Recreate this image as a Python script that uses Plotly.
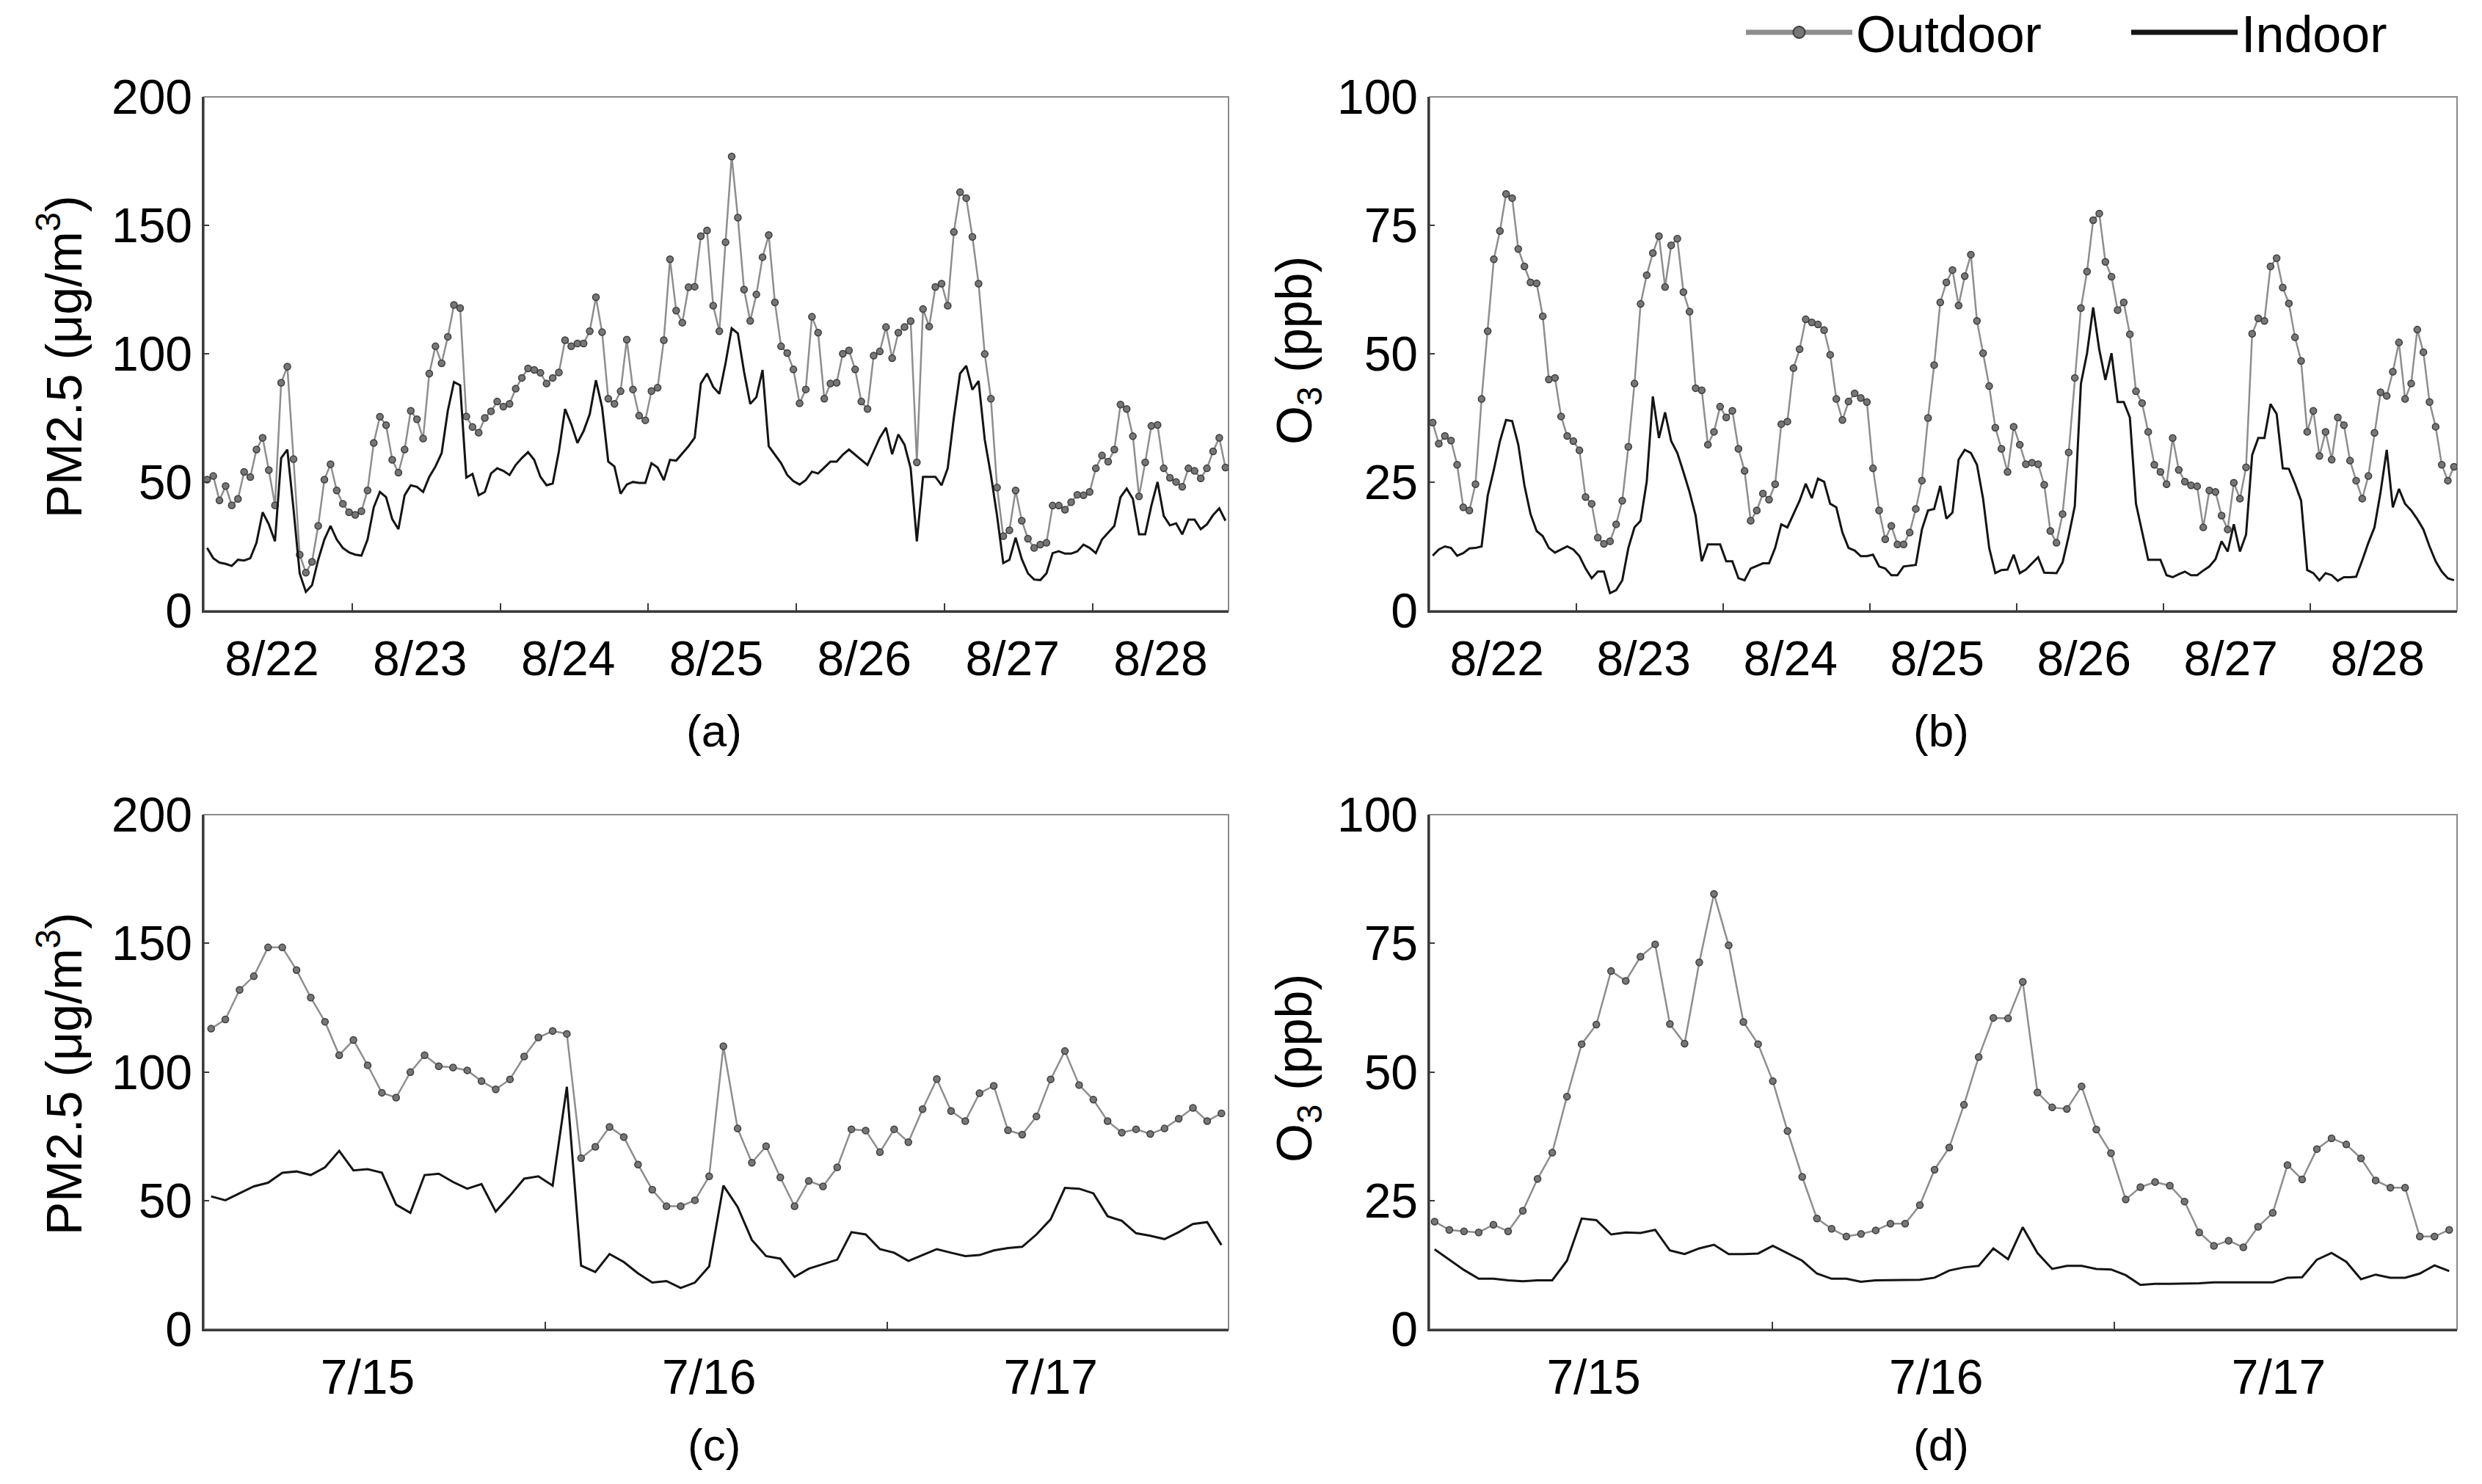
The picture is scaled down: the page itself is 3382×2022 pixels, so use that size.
import numpy as np
import plotly.graph_objects as go

# hourly values, 8/22 - 8/28 (panels a and b)
pm_out_aug = [51, 52.4, 42.9, 48.5, 41, 43.5, 54, 52, 62.7, 67.3,
              54.7, 41, 88.7, 95, 59, 21.8, 14.8, 19, 33, 51,
              57, 46.8, 41.6, 38.3, 37.3, 38.7, 46.8, 65.3, 75.5, 72.2,
              58.7, 53.7, 62.7, 77.8, 74.5, 67, 92.3, 102.9, 96.3, 106.6,
              119, 117.8, 75.6, 71.5, 69.3, 75, 77.6, 81.4, 79.4, 80.5,
              86.4, 90.6, 94.3, 93.7, 92.6, 88.4, 90.6, 92.7, 105.3, 102.9,
              104, 104, 108.8, 122, 108.4, 82.5, 80.5, 85.4, 105.5, 86.1,
              75.9, 74.1, 85.5, 86.8, 105.3, 136.8, 116.8, 112.1, 125.9, 126.1,
              145.8, 148, 118.7, 108.8, 143.4, 176.8, 153, 125, 112.8, 123.1,
              137.6, 146.2, 120, 102.9, 100.3, 93.9, 80.7, 86.1, 114.4, 108.2,
              82.5, 88.4, 88.7, 100, 101.3, 93.9, 81.4, 78.5, 99.3, 100.9,
              110.4, 98.3, 108.2, 110.4, 112.7, 57.7, 117.4, 110.6, 126, 127.3,
              118.7, 147.4, 162.9, 160.6, 145.5, 127.3, 99.9, 82.5, 47.9, 29,
              31.3, 46.8, 35, 28, 24.4, 25.7, 26.4, 40.9, 40.9, 39.3,
              42.2, 45.1, 44.9, 46.2, 55.4, 60.4, 58, 62.7, 80.2, 78.5,
              67.9, 44.5, 57.7, 71.9, 72.3, 55.4, 51.7, 50.1, 48.2, 55.4,
              54.4, 51.5, 55.4, 62, 67.3, 55.7]
pm_in_aug = [24.4, 20.4, 18.7, 18.2, 17.4, 19.8, 19.5, 20.4, 26.4, 38.3,
             33.6, 27, 59.4, 62.7, 39.6, 14.5, 7.3, 9.9, 19.8, 27.7,
             33, 27.7, 24.4, 22.7, 21.8, 21.4, 27.7, 40.2, 46.2, 44.2,
             35.6, 31.7, 44.9, 48.8, 48.2, 46.2, 52.1, 56.1, 61.3, 77.8,
             89, 87.7, 51.8, 53.2, 44.9, 46.2, 53.4, 55.4, 54.4, 52.8,
             56.7, 59.4, 61.7, 58.7, 52.1, 48.8, 49.5, 62, 78.5, 72.6,
             65.3, 69.9, 76.5, 89.7, 79.2, 58, 56.1, 45.5, 49.1, 50.1,
             49.7, 49.7, 57.4, 55.7, 50.8, 58.7, 58.4, 61.3, 64, 67.3,
             88.4, 92.3, 87.1, 84.4, 96.3, 109.9, 107.9, 93, 80.5, 83.1,
             93.7, 64, 60.7, 57.4, 52.8, 50.4, 49.1, 50.8, 54.1, 53.4,
             55.7, 58, 58, 60.7, 62.7, 60.7, 58.7, 56.7, 62, 67.3,
             71.2, 60.9, 68.6, 64.6, 55.4, 27, 52.1, 52.1, 52.1, 48.8,
             55.4, 75.2, 92.3, 95.3, 86, 89.4, 66.6, 52.8, 36.9, 18.5,
             19.8, 28.4, 20.1, 14.5, 12.1, 11.9, 14.5, 22.4, 23.1, 22.2,
             22.2, 23.1, 25.7, 24.4, 22.4, 27.7, 30.3, 33, 44.2, 47.5,
             43.5, 29.7, 29.7, 40.9, 50.1, 36.9, 33.2, 34, 29.7, 35.4,
             35.4, 31.7, 33.6, 37.2, 39.8, 35]
o3_out_aug = [36.6, 32.5, 34, 33.1, 28.4, 20.1, 19.5, 24.6, 41.2, 54.4,
              68.4, 73.9, 81.1, 80.3, 70.4, 67, 63.9, 63.7, 57.3, 45,
              45.3, 37.8, 34, 33, 31.2, 22.1, 20.8, 14.2, 13, 13.5,
              16.8, 21.4, 31.9, 44.2, 59.7, 65.3, 69.6, 72.9, 63, 71.1,
              72.4, 62, 58.2, 43.3, 42.9, 32.3, 34.8, 39.7, 37.6, 38.9,
              31.5, 27.2, 17.5, 19.5, 22.8, 21.6, 24.6, 36.3, 36.8, 47.2,
              50.9, 56.7, 56.1, 55.7, 54.6, 49.8, 41.2, 37.1, 40.7, 42.3,
              41.4, 40.6, 27.7, 19.5, 13.9, 16.5, 12.9, 12.9, 15.2, 19.8,
              25.3, 37.5, 47.8, 60, 63.9, 66.3, 59.4, 65.1, 69.3, 56.4,
              50.1, 43.7, 35.6, 31.5, 27, 35.8, 32.3, 28.5, 28.8, 28.5,
              24.5, 15.5, 13.2, 18.8, 30.8, 45.3, 58.9, 66, 76, 77.3,
              67.9, 65, 58.5, 60, 53.8, 42.7, 40.4, 34.8, 28.4, 27,
              24.6, 33.6, 27.4, 25.1, 24.4, 24.2, 16.2, 23.4, 23.1, 18.5,
              15.8, 24.9, 21.8, 27.9, 53.9, 56.9, 56.4, 67, 68.6, 62.9,
              59.8, 53.2, 48.6, 34.8, 38.9, 30.1, 34.8, 29.4, 37.6, 36.1,
              29.2, 25.3, 21.8, 26.2, 34.6, 42.5, 41.8, 46.5, 52.2, 41.2,
              44.2, 54.7, 50.3, 40.6, 35.8, 28.4, 25.3, 28]
o3_in_aug = [10.7, 11.9, 12.5, 12.2, 10.7, 11.2, 12.1, 12.2, 12.5, 22.4,
             27.4, 33, 37.1, 36.9, 32.3, 24.4, 18.8, 15.5, 14.5, 12.2,
             11.3, 11.9, 12.5, 11.9, 10.6, 8.2, 6.3, 7.6, 7.6, 3.4,
             4, 5.9, 12.2, 16.2, 17.5, 25.1, 41.7, 33.6, 38.6, 33,
             30.7, 27, 23.1, 18.5, 9.6, 12.9, 12.9, 12.9, 9.6, 9.6,
             6.3, 5.9, 8.2, 8.7, 9.2, 9.2, 12.2, 16.8, 16.2, 18.8,
             21.4, 24.7, 21.9, 25.7, 25.1, 20.8, 20.1, 15.2, 12.2, 11.7,
             10.6, 10.6, 10.9, 8.6, 8.2, 6.9, 6.9, 8.6, 8.7, 8.9,
             15.8, 19.5, 19.8, 24.3, 17.9, 19.1, 29.4, 31.3, 30.7, 28.4,
             21.8, 12.2, 7.3, 7.9, 8, 10.9, 7.3, 8, 9.2, 10.4,
             7.4, 7.3, 7.3, 9.4, 14.5, 20.4, 44.2, 50.1, 59, 50.8,
             44.9, 50.1, 40.6, 40.6, 37.6, 20.8, 15.2, 9.9, 9.9, 9.9,
             6.9, 6.5, 7.1, 7.6, 6.9, 6.9, 7.8, 8.6, 10, 13.5,
             11.5, 16.8, 11.5, 14.8, 30.3, 33.6, 33.6, 40.2, 38.3, 27.7,
             27.6, 24.7, 21.4, 7.9, 7.3, 5.9, 7.3, 6.9, 5.8, 6.5,
             6.5, 6.6, 9.8, 13.2, 16.2, 23.1, 31.3, 20.1, 23.7, 20.8,
             19.5, 17.8, 15.8, 12.5, 9.6, 7.6, 6.3, 5.9]

# 7/15 - 7/17 (panels c and d)
pm_out_jul = [116.8, 120.4, 131.9, 137.2, 148.4, 148.4, 139.6, 128.9, 119.5, 106.5,
              112.4, 102.6, 91.9, 90.0, 99.9, 106.5, 102.2, 101.7, 100.6, 96.4,
              93.2, 97.1, 106.0, 113.4, 115.9, 114.8, 66.5, 70.9, 78.6, 74.7,
              64.0, 54.2, 47.8, 47.8, 50.1, 59.4, 110.0, 78.0, 64.7, 71.1,
              59.0, 47.8, 57.6, 55.5, 62.9, 77.7, 77.2, 68.8, 77.7, 72.7,
              85.5, 97.2, 84.8, 80.9, 91.7, 94.6, 77.3, 75.6, 82.7, 97.1,
              108.1, 94.9, 89.2, 80.9, 76.4, 77.7, 75.9, 78.0, 81.8, 86.0,
              80.9, 83.9]
pm_in_jul = [51.6, 50.1, 52.8, 55.5, 56.9, 60.8, 61.3, 59.9, 62.9, 69.3,
             61.7, 62.2, 60.8, 48.4, 45.2, 59.9, 60.4, 57.2, 54.6, 56.4,
             45.7, 51.9, 58.5, 59.4, 55.8, 94.2, 24.7, 22.2, 29.2, 26.1,
             21.7, 18.1, 18.7, 16.0, 18.1, 24.4, 55.8, 47.5, 34.7, 28.4,
             27.4, 20.3, 23.5, 25.2, 27.0, 37.7, 36.8, 31.1, 29.7, 26.5,
             28.8, 31.1, 29.7, 28.4, 28.8, 30.6, 31.5, 32.0, 36.8, 42.7,
             54.9, 54.6, 52.8, 43.9, 42.1, 37.3, 36.3, 35.0, 37.7, 40.9,
             41.6, 32.7]
o3_out_jul = [20.9, 19.3, 19.0, 18.8, 20.3, 19.0, 23.0, 29.2, 34.3, 45.2,
              55.4, 59.2, 69.6, 67.7, 72.4, 74.8, 59.3, 55.5, 71.3, 84.6,
              74.6, 59.7, 55.4, 48.2, 38.5, 29.6, 21.5, 19.5, 18.0, 18.5,
              19.2, 20.5, 20.5, 24.1, 31.0, 35.3, 43.6, 52.9, 60.5, 60.4,
              67.5, 46.0, 43.1, 42.8, 47.2, 38.8, 34.2, 25.2, 27.6, 28.6,
              27.9, 24.8, 18.8, 16.2, 17.2, 15.9, 19.9, 22.6, 31.9, 29.1,
              35.0, 37.1, 35.9, 33.2, 28.9, 27.5, 27.5, 18.0, 18.0, 19.3]
o3_in_jul = [15.5, 13.5, 11.5, 9.8, 9.8, 9.5, 9.3, 9.5, 9.5, 13.3,
             21.5, 21.2, 18.4, 18.8, 18.7, 19.3, 15.3, 14.6, 15.7, 16.4,
             14.6, 14.6, 14.7, 16.2, 14.8, 13.3, 10.8, 9.8, 9.8, 9.2,
             9.5, 9.5, 9.5, 9.6, 10.0, 11.4, 12.0, 12.3, 15.7, 13.6,
             19.8, 14.8, 11.7, 12.3, 12.3, 11.7, 11.6, 10.5, 8.6, 8.8,
             8.8, 8.8, 8.9, 9.1, 9.1, 9.1, 9.1, 9.1, 10.0, 10.1,
             13.5, 14.8, 13.1, 9.7, 10.6, 10.0, 10.0, 10.8, 12.4, 11.3]

aug_days = ["8/22", "8/23", "8/24", "8/25", "8/26", "8/27", "8/28"]
jul_days = ["7/15", "7/16", "7/17"]

# hours since midnight of the first day; hourly means sit on the half hour
t_pm_aug = np.arange(len(pm_out_aug)) + 0.5
t_o3_aug = np.arange(len(o3_out_aug)) + 0.5
t_pm_jul = np.arange(len(pm_out_jul)) + 0.5
t_o3_jul = np.linspace(0.35, 71.45, len(o3_out_jul))  # 70 samples spread over the 3 days

FONT = "Liberation Sans, Arial, sans-serif"
OUT_LINE = "#8e8e8e"
OUT_MARK = "#767676"
MARK_EDGE = "#3c3c3c"
IN_LINE = "#141414"
AXIS = "#3a3a3a"

# the page body keeps its 8px margin, so the figure is 8px smaller than the window
PAD = 8
W, H = 3382 - PAD, 2022 - PAD


def fx(px):
    return (px - PAD) / W


def fy(py):
    return 1 - (py - PAD) / H


fig = go.Figure()

panels = [
    ("x", "y", t_pm_aug, pm_out_aug, pm_in_aug),
    ("x2", "y2", t_o3_aug, o3_out_aug, o3_in_aug),
    ("x3", "y3", t_pm_jul, pm_out_jul, pm_in_jul),
    ("x4", "y4", t_o3_jul, o3_out_jul, o3_in_jul),
]
for xa, ya, t, out, ind in panels:
    fig.add_trace(go.Scatter(x=t, y=out, xaxis=xa, yaxis=ya, mode="lines+markers",
                             name="Outdoor", showlegend=False,
                             line=dict(color=OUT_LINE, width=2.5),
                             marker=dict(size=9, color=OUT_MARK,
                                         line=dict(color=MARK_EDGE, width=1.5))))
    fig.add_trace(go.Scatter(x=t, y=ind, xaxis=xa, yaxis=ya, mode="lines",
                             name="Indoor", showlegend=False,
                             line=dict(color=IN_LINE, width=3)))

# legend keys are drawn heavier than the plotted lines
fig.add_trace(go.Scatter(x=[None], y=[None], mode="lines+markers", name="Outdoor",
                         line=dict(color=OUT_LINE, width=7),
                         marker=dict(size=16, color=OUT_MARK, line=dict(color=MARK_EDGE, width=2))))
fig.add_trace(go.Scatter(x=[None], y=[None], mode="lines", name="Indoor",
                         line=dict(color=IN_LINE, width=7)))


def x_axis(domain, anchor, rng, days, label_hour):
    return dict(domain=domain, anchor=anchor, range=rng,
                tickmode="array", tickvals=[label_hour + 24 * k for k in range(len(days))],
                ticktext=days, ticks="", showgrid=False, zeroline=False,
                showline=True, linecolor=AXIS, linewidth=3,
                tickfont=dict(family=FONT, size=66, color="black"),
                ticklabelstandoff=6,
                minor=dict(tickmode="array", tickvals=[24 * k for k in range(1, len(days))],
                           ticks="inside", ticklen=10, tickwidth=2, tickcolor=AXIS,
                           showgrid=False))


def y_axis(domain, anchor, top, step):
    return dict(domain=domain, anchor=anchor, range=[0, top],
                tickmode="array", tickvals=list(range(0, top + 1, step)),
                ticks="inside", ticklen=7, tickwidth=2, tickcolor=AXIS,
                showgrid=False, zeroline=False,
                showline=True, linecolor=AXIS, linewidth=2.5,
                tickfont=dict(family=FONT, size=66, color="black"),
                ticklabelstandoff=0)


left_dom = [fx(278), fx(1674)]
right_dom = [fx(1948), fx(3348)]
top_dom = [fy(832), fy(132)]
bot_dom = [fy(1811), fy(1110)]

fig.update_layout(
    width=W, height=H,
    margin=dict(l=0, r=0, t=0, b=0, autoexpand=False),
    paper_bgcolor="white", plot_bgcolor="white",
    font=dict(family=FONT, color="black"),
    xaxis=x_axis(left_dom, "y", [0, 166], aug_days, 11),
    xaxis2=x_axis(right_dom, "y2", [0, 168], aug_days, 11),
    xaxis3=x_axis(left_dom, "y3", [0, 72], jul_days, 11.5),
    xaxis4=x_axis(right_dom, "y4", [0, 72], jul_days, 11.5),
    yaxis=y_axis(top_dom, "x", 200, 50),
    yaxis2=y_axis(top_dom, "x2", 100, 25),
    yaxis3=y_axis(bot_dom, "x3", 200, 50),
    yaxis4=y_axis(bot_dom, "x4", 100, 25),
    legend=dict(orientation="h", x=fx(2374), y=fy(44), xanchor="left", yanchor="middle",
                font=dict(family=FONT, size=70, color="black"),
                itemwidth=145, entrywidth=365, bgcolor="rgba(0,0,0,0)"),
)

# light frame on the top and right sides of every panel
for xa, ya in [("x", "y"), ("x2", "y2"), ("x3", "y3"), ("x4", "y4")]:
    fig.add_shape(type="rect", xref=xa + " domain", yref=ya + " domain",
                  x0=0, x1=1, y0=0, y1=1, line=dict(color="#8a8a8a", width=2),
                  layer="below")

pm_title = "PM2.5 (μg/m<sup>3</sup>)"
o3_title = "O<sub>3</sub> (ppb)"
titles = [
    (pm_title, 82, 486),
    (o3_title, 1768, 478),
    (pm_title, 82, 1463),
    (o3_title, 1768, 1456),
]
for text, x, y in titles:
    fig.add_annotation(text=text, x=fx(x), y=fy(y), xref="paper", yref="paper",
                       textangle=-90, showarrow=False, xanchor="center", yanchor="middle",
                       font=dict(family=FONT, size=68, color="black"))

labels = [("(a)", 973, 995), ("(b)", 2645, 995), ("(c)", 973, 1968), ("(d)", 2645, 1968)]
for text, x, y in labels:
    fig.add_annotation(text=text, x=fx(x), y=fy(y), xref="paper", yref="paper",
                       showarrow=False, xanchor="center", yanchor="middle",
                       font=dict(family=FONT, size=62, color="black"))

fig.write_html("out.html")
